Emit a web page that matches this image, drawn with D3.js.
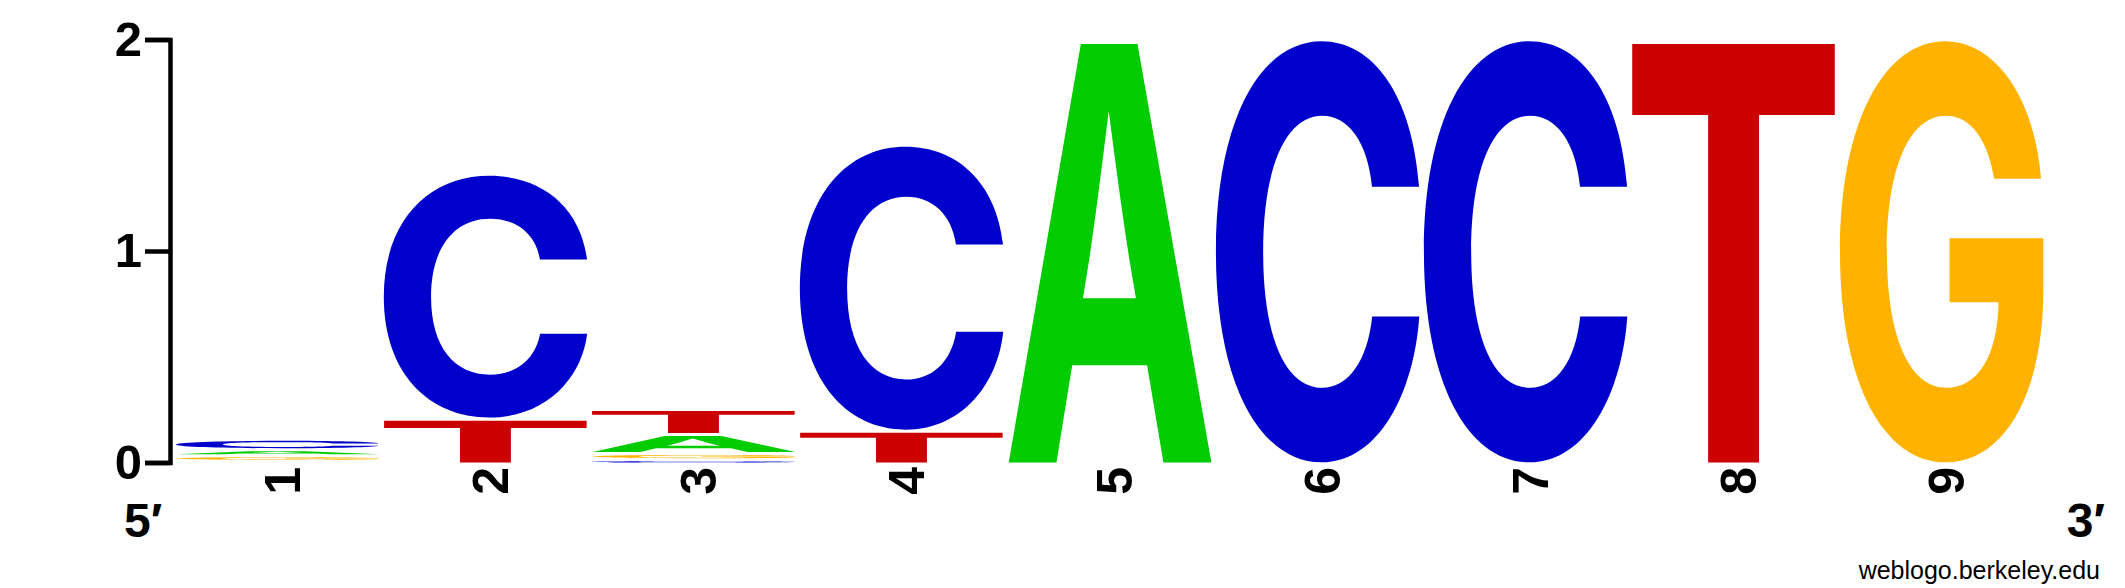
<!DOCTYPE html>
<html>
<head>
<meta charset="utf-8">
<script src="https://cdn.jsdelivr.net/npm/d3@7"></script>
<style>
  html, body { margin: 0; padding: 0; background: #fff; }
  svg { display: block; }
</style>
</head>
<body>
<svg id="logo" width="2125" height="588"></svg>
<script>
// DATA (bits per base at each position)
const positions = [1, 2, 3, 4, 5, 6, 7, 8, 9];
const bases = ['A', 'C', 'G', 'T'];
const bitsA = [0.028, 0, 0.09, 0, 2.0, 0, 0, 0, 0];
const bitsC = [0.049, 1.154, 0.02, 1.348, 0, 2.0, 2.0, 0, 0];
const bitsG = [0.0275, 0, 0.03, 0, 0, 0, 0, 0, 2.0];
const bitsT = [0.012, 0.212, 0.118, 0.155, 0, 0, 0, 2.0, 0];
const yTicks = [0, 1, 2];
const endLabels = ['5′', '3′'];
const credit = 'weblogo.berkeley.edu';

const baseColors = { A: '#00cc00', C: '#0000cc', G: '#ffb300', T: '#cc0000' };
const FONT = '"Liberation Sans", Arial, Helvetica, sans-serif';
const GLYPH_FONT = 'Inter, "Liberation Sans", Arial, sans-serif';

// SETUP
const svg = d3.select('#logo'),
  axisX = 170,
  gap = 3;

const x = d3.scaleBand()
  .domain(positions)
  .range([175.5, 2044.2])
  .paddingInner(0.017)
  .paddingOuter(0);

const y = d3.scaleLinear().domain([0, 2]).range([462.5, 39.5]);

// glyph ink metrics, so each letter can be stretched to fill its box
const ctx = document.createElement('canvas').getContext('2d');
ctx.font = 'bold 200px ' + GLYPH_FONT;
function ink(ch) {
  const m = ctx.measureText(ch);
  return {
    l: m.actualBoundingBoxLeft,
    r: m.actualBoundingBoxRight,
    a: m.actualBoundingBoxAscent,
    d: m.actualBoundingBoxDescent
  };
}
const metrics = {};
bases.forEach(b => (metrics[b] = ink(b)));

// STACKS - smallest at the bottom
const table = { A: bitsA, C: bitsC, G: bitsG, T: bitsT };
const letters = [];
positions.forEach((p, i) => {
  const col = bases
    .map(b => ({ base: b, bits: table[b][i], pos: p }))
    .filter(d => d.bits > 0)
    .sort((a, b) => a.bits - b.bits);
  let acc = 0;
  col.forEach(d => {
    d.y0 = acc;
    acc += d.bits;
    d.y1 = acc;
    letters.push(d);
  });
});

const drawn = letters.filter(d => y(d.y0) - (y(d.y1) + gap) > 0.5);

svg.append('g')
  .attr('class', 'letters')
  .selectAll('text')
  .data(drawn)
  .join('text')
  .attr('font-family', GLYPH_FONT)
  .attr('font-weight', 'bold')
  .attr('font-size', 200)
  .attr('fill', d => baseColors[d.base])
  .attr('x', 0)
  .attr('y', 0)
  .attr('transform', d => {
    const m = metrics[d.base];
    const bx = x(d.pos),
      bw = x.bandwidth(),
      by = y(d.y1) + gap,
      bh = y(d.y0) - by;
    const sx = bw / (m.l + m.r),
      sy = bh / (m.a + m.d);
    return `translate(${bx},${by}) scale(${sx},${sy}) translate(${m.l},${m.a})`;
  })
  .text(d => d.base);

// Y AXIS
const yAxis = d3.axisLeft(y)
  .tickValues(yTicks)
  .tickSizeInner(25)
  .tickSizeOuter(25)
  .tickPadding(3)
  .tickFormat(d3.format('d'));

const ga = svg.append('g')
  .attr('transform', `translate(${axisX},0)`)
  .call(yAxis);
ga.select('.domain')
  .attr('stroke', '#000')
  .attr('stroke-width', 4.5)
  .attr('stroke-linejoin', 'miter');
ga.selectAll('.tick line').attr('stroke', '#000').attr('stroke-width', 4.5);
ga.selectAll('.tick text')
  .attr('fill', '#000')
  .attr('font-family', FONT)
  .attr('font-weight', 'bold')
  .attr('font-size', 49);

// POSITION LABELS (rotated)
svg.append('g')
  .attr('class', 'pos-labels')
  .selectAll('text')
  .data(positions)
  .join('text')
  .attr('transform', d => `translate(${x(d) + x.bandwidth() / 2 + 5},467) rotate(-90)`)
  .attr('text-anchor', 'end')
  .attr('dy', '0.35em')
  .attr('font-family', FONT)
  .attr('font-weight', 'bold')
  .attr('font-size', 50)
  .text(d => d);

// 5' / 3' ENDS
svg.append('text')
  .attr('x', 124)
  .attr('y', 537)
  .attr('font-family', FONT)
  .attr('font-weight', 'bold')
  .attr('font-size', 48)
  .text(endLabels[0]);
svg.append('text')
  .attr('x', 2105)
  .attr('y', 537)
  .attr('text-anchor', 'end')
  .attr('font-family', FONT)
  .attr('font-weight', 'bold')
  .attr('font-size', 48)
  .text(endLabels[1]);

// CREDIT
svg.append('text')
  .attr('x', 2100)
  .attr('y', 579)
  .attr('text-anchor', 'end')
  .attr('font-family', FONT)
  .attr('font-size', 25)
  .text(credit);
</script>
</body>
</html>
